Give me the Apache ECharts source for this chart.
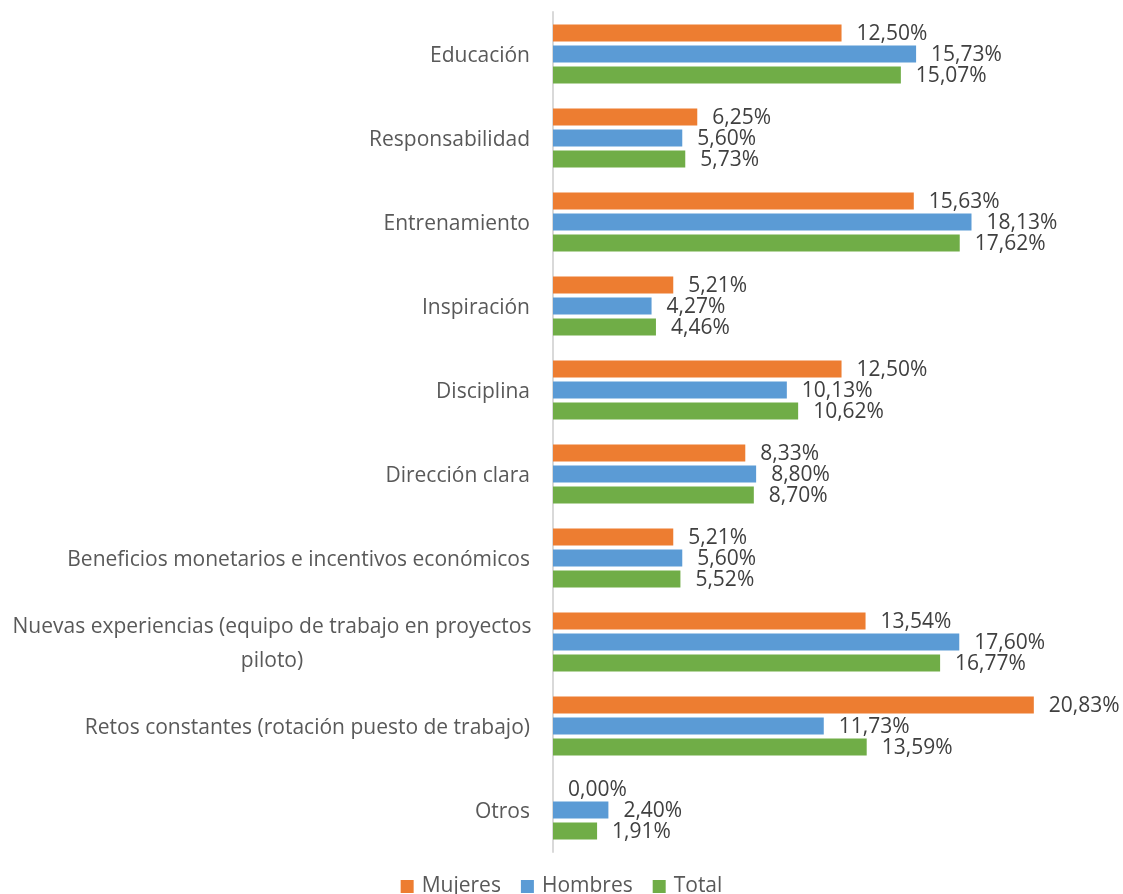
<!DOCTYPE html>
<html>
<head>
<meta charset="utf-8">
<script src="https://cdn.jsdelivr.net/npm/echarts@6/dist/echarts.min.js"></script>
<style>html,body{margin:0;padding:0;background:#fff;}#chart{width:1123px;height:894px;}</style>
</head>
<body>
<div id="chart"></div>
<script>
const categories = [
  "Educación",
  "Responsabilidad",
  "Entrenamiento",
  "Inspiración",
  "Disciplina",
  "Dirección clara",
  "Beneficios monetarios e incentivos económicos",
  "Nuevas experiencias (equipo de trabajo en proyectos\npiloto)",
  "Retos constantes (rotación puesto de trabajo)",
  "Otros"
];
const seriesNames = ["Mujeres", "Hombres", "Total"];
const mujeres = [12.50, 6.25, 15.63, 5.21, 12.50, 8.33, 5.21, 13.54, 20.83, 0.00];
const hombres = [15.73, 5.60, 18.13, 4.27, 10.13, 8.80, 5.60, 17.60, 11.73, 2.40];
const total   = [15.07, 5.73, 17.62, 4.46, 10.62, 8.70, 5.52, 16.77, 13.59, 1.91];

const colors = ["#ED7D31", "#5B9BD5", "#70AD47"];
const FONT = "Open Sans";
const FS = 21;
const chart = echarts.init(document.getElementById('chart'));

function mkSeries(name, data, color) {
  return {
    name: name,
    type: 'bar',
    data: data,
    barWidth: 17,
    barGap: '24%',
    itemStyle: { color: color },
    label: {
      show: true,
      position: 'right',
      distance: 15,
      offset: [0, 1],
      color: '#404040',
      fontFamily: FONT,
      fontSize: FS,
      formatter: p => p.value.toFixed(2).replace('.', ',') + '%'
    }
  };
}

chart.setOption({
  animation: false,
  textStyle: { fontFamily: FONT },
  grid: { left: 553, right: 16, top: 12, bottom: 42, containLabel: false },
  legend: {
    top: 871,
    left: 'center',
    itemWidth: 13,
    itemHeight: 13,
    itemGap: 20,
    icon: 'rect',
    textStyle: { color: '#595959', fontSize: FS, fontFamily: FONT, padding: [0, 0, 0, 3] },
    data: seriesNames
  },
  xAxis: {
    type: 'value',
    min: 0,
    max: 24,
    show: false,
    splitLine: { show: false }
  },
  yAxis: {
    type: 'category',
    inverse: true,
    data: categories,
    axisLine: { show: true, lineStyle: { color: '#D9D9D9', width: 2 } },
    axisTick: { show: false },
    axisLabel: {
      margin: 23,
      color: '#595959',
      fontFamily: FONT,
      fontSize: FS,
      padding: [4, 0, 0, 0],
      formatter: function (v) {
        if (v.indexOf('\n') >= 0) {
          return v.split('\n').map(s => '{c|' + s + '}').join('\n');
        }
        return v;
      },
      rich: {
        c: { width: 516, align: 'center', color: '#595959', fontFamily: FONT, fontSize: FS, lineHeight: 34 }
      }
    }
  },
  series: [
    mkSeries(seriesNames[0], mujeres, colors[0]),
    mkSeries(seriesNames[1], hombres, colors[1]),
    mkSeries(seriesNames[2], total, colors[2])
  ]
});
</script>
</body>
</html>
